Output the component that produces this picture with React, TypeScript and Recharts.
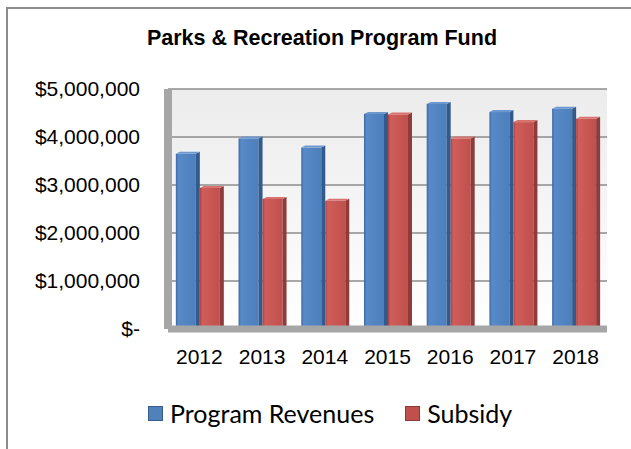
import { BarChart, Bar, CartesianGrid, Legend, XAxis, YAxis } from "recharts";

const years = ["2012", "2013", "2014", "2015", "2016", "2017", "2018"];
const programRevenues = [3650000, 3970000, 3780000, 4480000, 4690000, 4520000, 4590000];
const subsidy = [2940000, 2710000, 2670000, 4470000, 3970000, 4310000, 4380000];
const yTicks = [0, 1000000, 2000000, 3000000, 4000000, 5000000];

const seriesNames = ["Program Revenues", "Subsidy"];

const data = years.map((year, i) => ({
  year,
  revenues: programRevenues[i],
  subsidy: subsidy[i],
}));

const formatMoney = (v: number) =>
  v === 0 ? "$-" : "$" + v.toLocaleString("en-US");

const Bar3D = (props: any) => {
  const { x, y, width, height, front, side, top } = props;
  if (!height || height <= 0) return null;
  const d = 4;
  return (
    <g>
      <rect x={x} y={y} width={width - d} height={height} fill={front} />
      <polygon
        points={`${x + width - d},${y} ${x + width},${y - 2} ${x + width},${y + height} ${x + width - d},${y + height}`}
        fill={side}
      />
      <polygon
        points={`${x},${y} ${x + d},${y - 2} ${x + width},${y - 2} ${x + width - d},${y}`}
        fill={top}
      />
    </g>
  );
};

const LegendContent = () => {
  const colors = [
    { fill: "#4f81bd", border: "#385d8a" },
    { fill: "#c0504d", border: "#8c3836" },
  ];
  return (
    <div style={{ display: "flex", alignItems: "center", height: 30, paddingLeft: 148, fontFamily: "Lato", fontSize: 25, color: "#000" }}>
      {seriesNames.map((name, i) => (
        <div key={name} style={{ display: "flex", alignItems: "center", marginRight: i === 0 ? 31 : 0 }}>
          <span style={{ display: "inline-block", width: 13, height: 13, background: colors[i].fill, border: `1px solid ${colors[i].border}`, marginRight: 7 }} />
          <span style={{ lineHeight: "30px" }}>{name}</span>
        </div>
      ))}
    </div>
  );
};

export default function App() {
  return (
    <div style={{ position: "fixed", left: 0, top: 0, width: 631, height: 449, overflow: "hidden", background: "#fff" }}>
      <div style={{ position: "absolute", left: 6, top: 7, width: 700, height: 500, border: "2px solid #8c8c8c", boxSizing: "border-box" }} />
      <div
        style={{
          position: "absolute",
          left: 0,
          top: 26,
          width: 644,
          textAlign: "center",
          fontFamily: "'Liberation Sans', Arial, sans-serif",
          fontWeight: "bold",
          fontSize: 21.5,
          lineHeight: "24px",
          color: "#000",
        }}
      >
        Parks &amp; Recreation Program Fund
      </div>
      <div style={{ position: "absolute", left: 0, top: 0 }}>
        <BarChart
          width={631}
          height={449}
          data={data}
          margin={{ top: 89, right: 24, bottom: 21, left: 0 }}
          barCategoryGap="12.5%"
          barGap={0}
        >
          <defs>
            <linearGradient id="wall" x1="0" y1="0" x2="0" y2="1">
              <stop offset="0%" stopColor="#ececec" />
              <stop offset="100%" stopColor="#ffffff" />
            </linearGradient>
            <linearGradient id="blueFront" x1="0" y1="0" x2="1" y2="0">
              <stop offset="0%" stopColor="#3b67a3" />
              <stop offset="12%" stopColor="#5889c8" />
              <stop offset="100%" stopColor="#4d7fbc" />
            </linearGradient>
            <linearGradient id="redFront" x1="0" y1="0" x2="1" y2="0">
              <stop offset="0%" stopColor="#a8413e" />
              <stop offset="12%" stopColor="#d05d59" />
              <stop offset="100%" stopColor="#c0504d" />
            </linearGradient>
          </defs>
          <CartesianGrid vertical={false} stroke="#8c8c8c" strokeWidth={1.5} fill="url(#wall)" />
          <XAxis
            dataKey="year"
            height={69}
            tickSize={0}
            tickMargin={20}
            axisLine={{ stroke: "#a6a6a6", strokeWidth: 7 }}
            tick={{ fill: "#000", fontSize: 21, fontFamily: "'Liberation Sans', Arial, sans-serif" }}
          />
          <YAxis
            width={168}
            domain={[0, 5000000]}
            ticks={yTicks}
            tickFormatter={formatMoney}
            tickSize={0}
            tickMargin={28}
            axisLine={{ stroke: "#a6a6a6", strokeWidth: 8 }}
            tick={{ fill: "#000", fontSize: 21, fontFamily: "'Liberation Sans', Arial, sans-serif" }}
          />
          <Legend
            verticalAlign="bottom"
            content={() => <LegendContent />}
            wrapperStyle={{ left: 0, width: 631 }}
          />
          <Bar
            dataKey="revenues"
            name={seriesNames[0]}
            fill="#4f81bd"
            isAnimationActive={false}
            shape={(p: any) => <Bar3D {...p} front="url(#blueFront)" side="#335a8c" top="#6d98cf" />}
          />
          <Bar
            dataKey="subsidy"
            name={seriesNames[1]}
            fill="#c0504d"
            isAnimationActive={false}
            shape={(p: any) => <Bar3D {...p} front="url(#redFront)" side="#8f3b39" top="#d8726f" />}
          />
        </BarChart>
      </div>
    </div>
  );
}
